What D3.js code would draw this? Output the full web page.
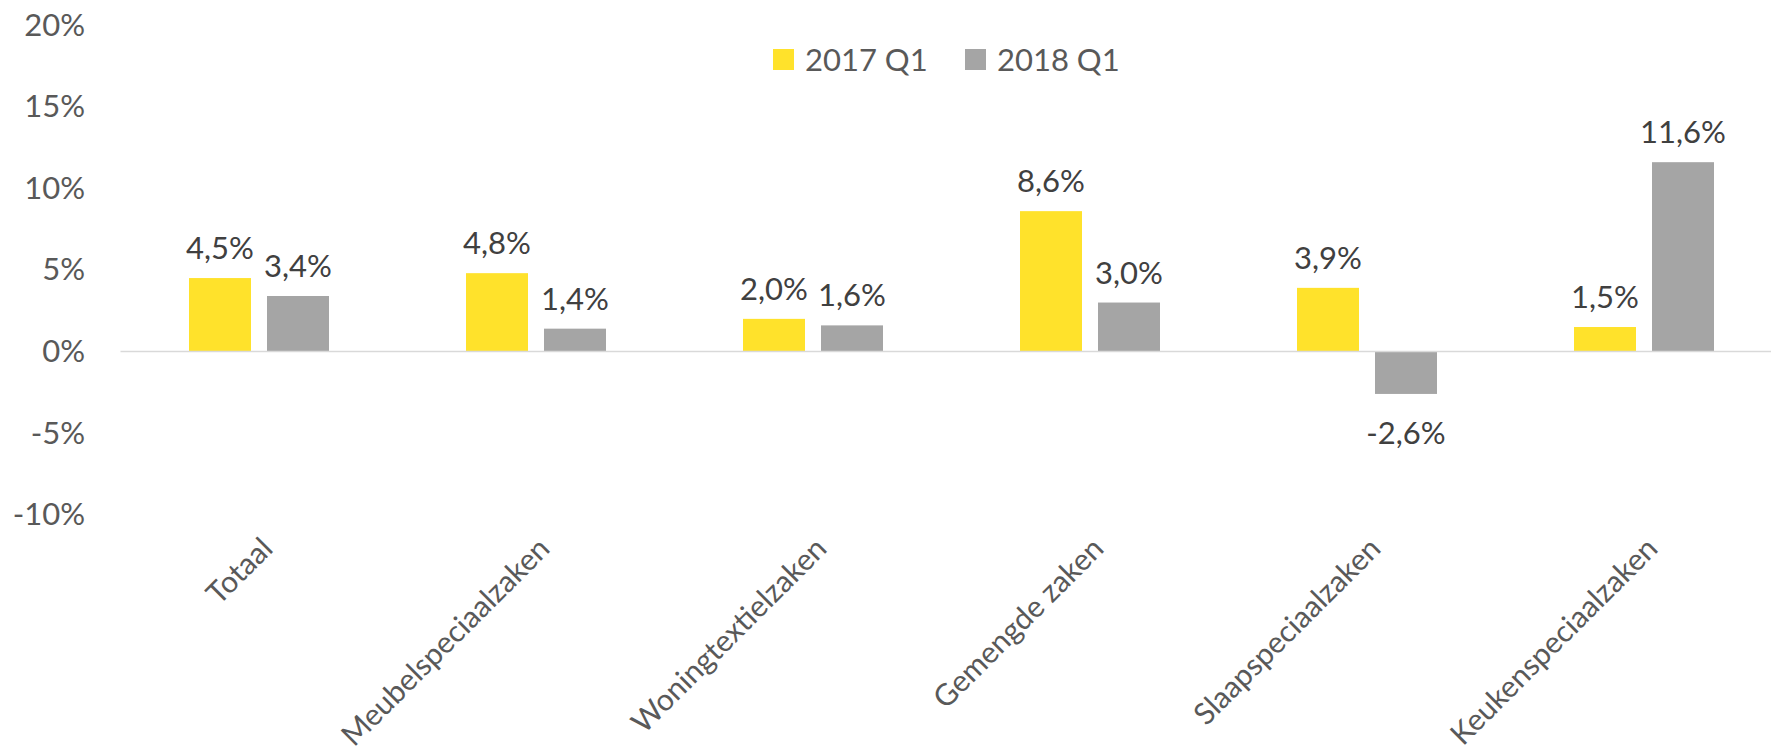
<!DOCTYPE html>
<html>
<head>
<meta charset="utf-8">
<script src="https://cdn.jsdelivr.net/npm/d3@7"></script>
<style>
  html, body { margin: 0; padding: 0; background: #ffffff; }
  svg { display: block; font-family: Lato, "Open Sans", sans-serif; }
</style>
</head>
<body>
<svg id="chart" width="1771" height="753"></svg>
<script>
const categories = ["Totaal", "Meubelspeciaalzaken", "Woningtextielzaken", "Gemengde zaken", "Slaapspeciaalzaken", "Keukenspeciaalzaken"];
const seriesNames = ["2017 Q1", "2018 Q1"];
const values2017 = [4.5, 4.8, 2.0, 8.6, 3.9, 1.5];
const values2018 = [3.4, 1.4, 1.6, 3.0, -2.6, 11.6];
const yTicks = [-10, -5, 0, 5, 10, 15, 20];
const colors = ["#FFE22B", "#A5A5A5"];

const svg = d3.select("#chart");
const W = 1771, H = 753;

const x = d3.scaleBand().domain(categories).range([120.5, 1782.5]).paddingInner(0).paddingOuter(0);
const xInner = d3.scaleBand().domain(seriesNames).range([68.5, 208.5]).paddingInner(16 / 78).paddingOuter(0);
const y = d3.scaleLinear().domain([-10, 20]).range([514.7, 25.1]);

const locale = d3.formatLocale({decimal: ",", thousands: ".", grouping: [3], currency: ["€", ""], minus: "-"});
const fmt = locale.format(".1f");

// y axis labels
const yAxis = d3.axisLeft(y).tickValues(yTicks).tickSize(0).tickPadding(35.5).tickFormat(d => d + "%");
const gy = svg.append("g").attr("transform", "translate(120.5,0)").call(yAxis);
gy.select(".domain").remove();
gy.selectAll("text").attr("font-size", 31).attr("fill", "#595959").attr("font-family", "Lato, 'Open Sans', sans-serif");

// bars
const data = [];
categories.forEach((c, i) => {
  data.push({cat: c, s: seriesNames[0], v: values2017[i], color: colors[0]});
  data.push({cat: c, s: seriesNames[1], v: values2018[i], color: colors[1]});
});

svg.append("g").selectAll("rect").data(data).join("rect")
  .attr("x", d => x(d.cat) + xInner(d.s))
  .attr("width", xInner.bandwidth())
  .attr("y", d => Math.min(y(d.v), y(0)))
  .attr("height", d => Math.abs(y(d.v) - y(0)))
  .attr("fill", d => d.color);

// zero line
svg.append("line")
  .attr("x1", x.range()[0]).attr("x2", W)
  .attr("y1", y(0)).attr("y2", y(0))
  .attr("stroke", "#D9D9D9").attr("stroke-width", 1.5);

// data labels
svg.append("g").selectAll("text").data(data).join("text")
  .attr("x", d => x(d.cat) + xInner(d.s) + xInner.bandwidth() / 2)
  .attr("y", d => d.v >= 0 ? y(d.v) - 19 : y(d.v) + 50)
  .attr("text-anchor", "middle")
  .attr("font-size", 31)
  .attr("fill", "#404040")
  .text(d => fmt(d.v) + "%");

// category labels
svg.append("g").selectAll("text").data(categories).join("text")
  .attr("transform", d => `translate(${x(d) + x.bandwidth() / 2 + 8},543) rotate(-45)`)
  .attr("text-anchor", "end")
  .attr("dy", "0.35em")
  .attr("font-size", 30)
  .attr("fill", "#595959")
  .text(d => d);

// legend
const legendX = [773, 965];
const lg = svg.append("g").selectAll("g").data(seriesNames).join("g")
  .attr("transform", (d, i) => `translate(${legendX[i]},49)`);
lg.append("rect").attr("width", 21).attr("height", 21).attr("fill", (d, i) => colors[i]);
lg.append("text").attr("x", 32).attr("y", 10.5).attr("dy", "0.36em")
  .attr("font-size", 31).attr("fill", "#595959").text(d => d);
</script>
</body>
</html>
